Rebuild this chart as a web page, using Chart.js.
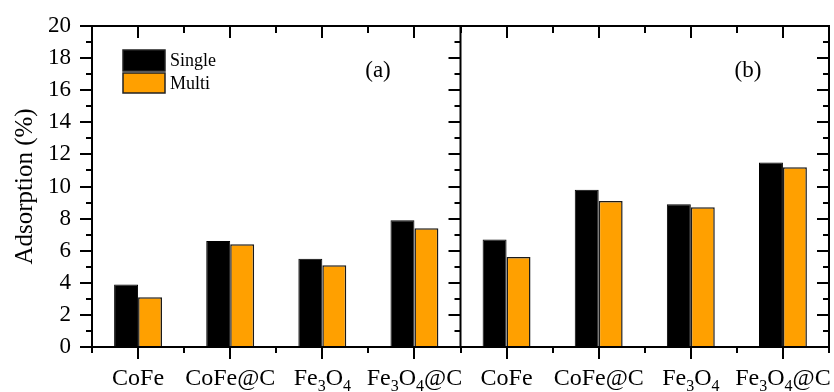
<!DOCTYPE html>
<html>
<head>
<meta charset="utf-8">
<script src="https://cdn.jsdelivr.net/npm/chart.js@4.4.0/dist/chart.umd.min.js"></script>
<style>
  html, body { margin: 0; padding: 0; background: #fff; }
  #chart { display: block; }
</style>
</head>
<body>
<canvas id="chart" width="834" height="392"></canvas>
<script>
// categories (same four samples in both panels)
var categories = ['CoFe', 'CoFe@C', 'Fe3O4', 'Fe3O4@C'];
var panels = ['(a)', '(b)'];

// adsorption (%)
var singleA = [3.9, 6.6, 5.5, 7.9];
var multiA  = [3.1, 6.4, 5.1, 7.4];
var singleB = [6.7, 9.8, 8.9, 11.5];
var multiB  = [5.6, 9.1, 8.7, 11.2];

var yTicks = [0, 2, 4, 6, 8, 10, 12, 14, 16, 18, 20];

var FONT = "'Liberation Serif', 'Times New Roman', serif";

// both panels share one x axis: 4 + 4 categories
var labels = categories.concat(categories);

// frame, ticks, divider, subscripted x labels, legend and panel tags
var framePlugin = {
  id: 'frame',
  afterDraw: function(chart) {
    var ctx = chart.ctx;
    var a = chart.chartArea;
    var xs = chart.scales.x;
    var ys = chart.scales.y;
    var n = labels.length;
    var mid = (xs.getPixelForValue(3) + xs.getPixelForValue(4)) / 2;

    ctx.save();
    ctx.strokeStyle = '#000';
    ctx.lineWidth = 2;
    ctx.lineCap = 'butt';

    // box + divider
    ctx.strokeRect(a.left, a.top, a.right - a.left, a.bottom - a.top);
    ctx.beginPath();
    ctx.moveTo(mid, a.top);
    ctx.lineTo(mid, a.bottom);
    ctx.stroke();

    ctx.beginPath();
    // x ticks: majors at category centres, minors at boundaries
    for (var i = 0; i < n; i++) {
      var cx = Math.round(xs.getPixelForValue(i));
      ctx.moveTo(cx, a.bottom); ctx.lineTo(cx, a.bottom + 12);
      ctx.moveTo(cx, a.top); ctx.lineTo(cx, a.top + 12);
    }
    for (var j = 0; j <= n; j++) {
      var bx;
      if (j === 0) bx = a.left;
      else if (j === n) bx = a.right;
      else bx = Math.round((xs.getPixelForValue(j - 1) + xs.getPixelForValue(j)) / 2);
      ctx.moveTo(bx, a.bottom); ctx.lineTo(bx, a.bottom + 6);
      ctx.moveTo(bx, a.top); ctx.lineTo(bx, a.top + 7);
    }
    // y ticks: every unit, longer on even values
    for (var v = 0; v <= 20; v++) {
      var py = Math.round(ys.getPixelForValue(v));
      var len = v % 2 === 0 ? 12 : 6;
      ctx.moveTo(a.left, py); ctx.lineTo(a.left - len, py);
      ctx.moveTo(mid, py); ctx.lineTo(mid - len, py);
      ctx.moveTo(a.right, py); ctx.lineTo(a.right - len, py);
    }
    ctx.stroke();

    // x labels with subscript digits
    ctx.fillStyle = '#000';
    ctx.textBaseline = 'alphabetic';
    ctx.textAlign = 'left';
    for (var k = 0; k < n; k++) {
      var parts = labels[k].match(/\d+|\D+/g);
      var w = 0;
      parts.forEach(function(p) {
        ctx.font = (/\d/.test(p) ? '16px ' : '24px ') + FONT;
        w += ctx.measureText(p).width;
      });
      var x0 = xs.getPixelForValue(k) - w / 2;
      parts.forEach(function(p) {
        var sub = /\d/.test(p);
        ctx.font = (sub ? '16px ' : '24px ') + FONT;
        ctx.fillText(p, x0, sub ? 391 : 385);
        x0 += ctx.measureText(p).width;
      });
    }

    // legend inside panel (a)
    var ds = chart.data.datasets;
    var boxes = [[123, 50, 42, 21], [123, 73, 42, 20]];
    ctx.lineWidth = 1.5;
    ctx.strokeStyle = '#222';
    ctx.font = '18px ' + FONT;
    ctx.textBaseline = 'middle';
    for (var d = 0; d < ds.length; d++) {
      var b = boxes[d];
      ctx.fillStyle = ds[d].backgroundColor;
      ctx.fillRect(b[0], b[1], b[2], b[3]);
      ctx.strokeRect(b[0], b[1], b[2], b[3]);
      ctx.fillStyle = '#000';
      ctx.fillText(ds[d].label, 170, b[1] + b[3] / 2 + 1);
    }

    // panel tags
    ctx.font = '23px ' + FONT;
    ctx.textAlign = 'center';
    ctx.fillText(panels[0], 378, 71);
    ctx.fillText(panels[1], 748, 71);
    ctx.restore();
  }
};

var ctx = document.getElementById('chart').getContext('2d');
var myChart = new Chart(ctx, {
  type: 'bar',
  data: {
    labels: labels,
    datasets: [
      {
        label: 'Single',
        data: singleA.concat(singleB),
        backgroundColor: '#000000',
        borderColor: '#000000',
        borderWidth: 1
      },
      {
        label: 'Multi',
        data: multiA.concat(multiB),
        backgroundColor: '#FFA000',
        borderColor: '#1a1a1a',
        borderWidth: 1.5
      }
    ]
  },
  options: {
    responsive: false,
    animation: false,
    devicePixelRatio: 1,
    categoryPercentage: 0.52,
    barPercentage: 1,
    layout: { padding: { top: 26, right: 5, left: 0, bottom: 0 } },
    plugins: {
      legend: { display: false },
      tooltip: { enabled: false }
    },
    scales: {
      x: {
        type: 'category',
        grid: { display: false },
        border: { display: false },
        ticks: { display: false },
        afterFit: function(scale) {
          scale.height = 45;
          scale.paddingLeft = 0;
          scale.paddingRight = 0;
        }
      },
      y: {
        min: 0,
        max: 20,
        afterBuildTicks: function(scale) {
          scale.ticks = yTicks.map(function(t) { return { value: t }; });
        },
        grid: { display: false, drawTicks: false },
        border: { display: false },
        ticks: {
          color: '#000',
          padding: 21,
          font: { family: FONT, size: 23 }
        },
        title: {
          display: true,
          text: 'Adsorption (%)',
          color: '#000',
          font: { family: FONT, size: 25 },
          padding: { top: 10, bottom: 0 }
        },
        afterFit: function(scale) {
          scale.width = 92;
          scale.paddingTop = 0;
          scale.paddingBottom = 0;
        }
      }
    }
  },
  plugins: [framePlugin]
});
</script>
</body>
</html>
